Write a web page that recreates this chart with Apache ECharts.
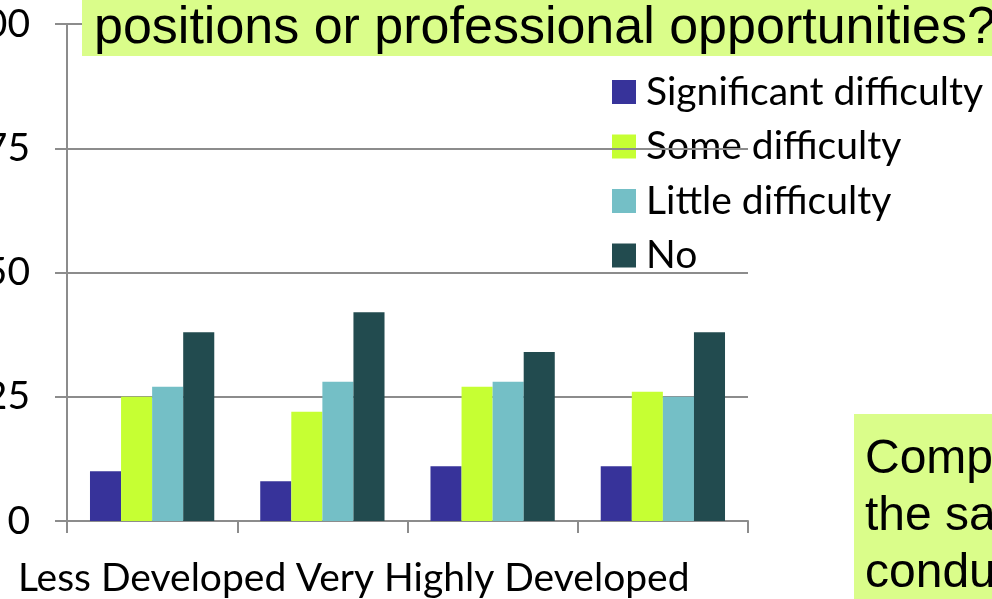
<!DOCTYPE html>
<html>
<head>
<meta charset="utf-8">
<script src="https://cdn.jsdelivr.net/npm/echarts@6/dist/echarts.min.js"></script>
<style>
  html, body { margin: 0; padding: 0; background: #ffffff; }
  #chart { width: 992px; height: 599px; }
</style>
</head>
<body>
<div id="chart"></div>
<script>
// Development groups (every other label is shown on the axis)
const categories = ["Less Developed", "Medium Developed", "Very Highly Developed", "Highly Developed"];

// Percent of respondents per answer
const significantDifficulty = [10, 8, 11, 11];
const someDifficulty = [25, 22, 27, 26];
const littleDifficulty = [27, 28, 28, 25];
const noDifficulty = [38, 42, 34, 38];

const seriesNames = ["Significant difficulty", "Some difficulty", "Little difficulty", "No"];
const seriesColors = ["#37339a", "#c6ff33", "#74bfc6", "#224b4f"];

const yTicks = { min: 0, max: 100, interval: 25 };

const titleText = "positions or professional opportunities?";
const noteLines = ["Comp", "the sa", "condu"];

const bodyFont = "Lato, 'Open Sans', sans-serif";
const gridGrey = "#8c8c8c";

const chart = echarts.init(document.getElementById("chart"), null, { renderer: "canvas" });

const values = [significantDifficulty, someDifficulty, littleDifficulty, noDifficulty];

chart.setOption({
  animation: false,
  backgroundColor: "#ffffff",
  grid: { left: 67, right: 244, top: 24, bottom: 78, containLabel: false, outerBoundsMode: "none" },
  legend: {
    orient: "vertical",
    left: 612,
    top: 71,
    z: -1,
    padding: 0,
    itemWidth: 24,
    itemHeight: 24,
    itemGap: 12.5,
    icon: "rect",
    data: seriesNames,
    textStyle: {
      fontFamily: bodyFont,
      fontSize: 39,
      lineHeight: 42,
      color: "#000000",
      padding: [0, 0, 0, 5]
    }
  },
  xAxis: {
    type: "category",
    data: categories,
    boundaryGap: true,
    axisLine: { show: true, lineStyle: { color: gridGrey, width: 2 } },
    axisTick: { show: true, interval: 0, length: 12, lineStyle: { color: gridGrey, width: 2 } },
    axisLabel: {
      interval: 1,
      hideOverlap: false,
      margin: 38,
      fontFamily: bodyFont,
      fontSize: 39,
      color: "#000000"
    },
    splitLine: { show: false }
  },
  yAxis: {
    type: "value",
    min: yTicks.min,
    max: yTicks.max,
    interval: yTicks.interval,
    axisLine: { show: true, lineStyle: { color: gridGrey, width: 2 } },
    axisTick: { show: true, length: 12, lineStyle: { color: gridGrey, width: 2 } },
    axisLabel: {
      margin: 37,
      fontFamily: bodyFont,
      fontSize: 39,
      color: "#000000"
    },
    splitLine: { show: true, lineStyle: { color: gridGrey, width: 2 } }
  },
  series: seriesNames.map((name, i) => ({
    name: name,
    type: "bar",
    data: values[i],
    barGap: "0%",
    barCategoryGap: "27%",
    itemStyle: { color: seriesColors[i] }
  })),
  graphic: [
    {
      type: "rect",
      z: 100,
      shape: { x: 82, y: 0, width: 920, height: 56 },
      style: { fill: "#dafd8a" }
    },
    {
      type: "text",
      z: 101,
      x: 94,
      y: 29,
      style: {
        text: titleText,
        font: "52px 'Liberation Sans', Arial, sans-serif",
        fill: "#000000",
        verticalAlign: "middle"
      }
    },
    {
      type: "rect",
      z: 100,
      shape: { x: 854, y: 414, width: 150, height: 200 },
      style: { fill: "#dafd8a" }
    },
    {
      type: "text",
      z: 101,
      x: 865,
      y: 517,
      style: {
        text: noteLines.join("\n"),
        font: "48px 'Liberation Sans', Arial, sans-serif",
        lineHeight: 57,
        fill: "#000000",
        verticalAlign: "middle"
      }
    }
  ]
});
</script>
</body>
</html>
